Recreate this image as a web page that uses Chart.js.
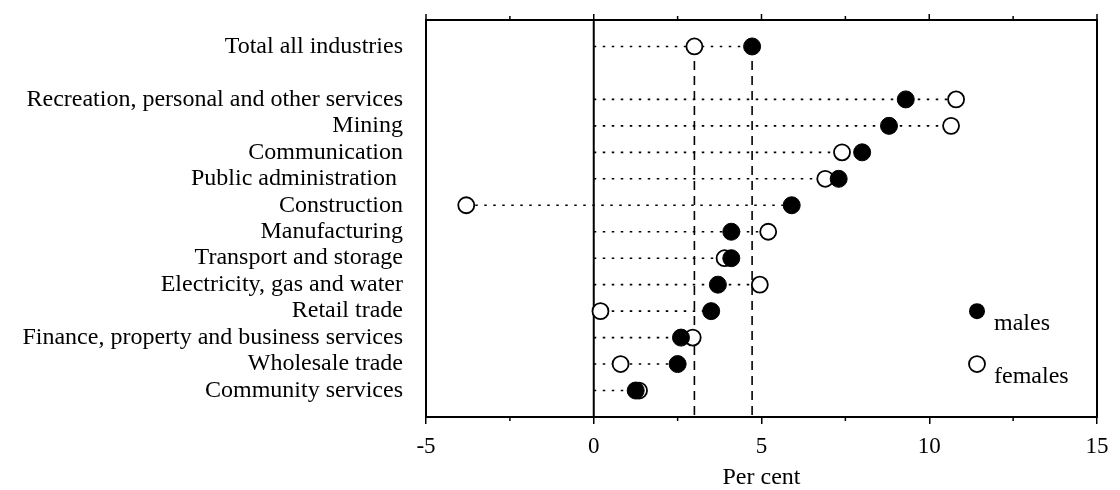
<!DOCTYPE html>
<html>
<head>
<meta charset="utf-8">
<script src="https://cdn.jsdelivr.net/npm/chart.js@4"></script>
<style>
  html, body { margin: 0; background: #fff; }
  #wrap { width: 1120px; height: 490px; }
</style>
</head>
<body>
<div id="wrap"><canvas id="chart"></canvas></div>
<script>
// ============================================================
// Data (per cent)
// ============================================================
const totalLabel = "Total all industries";
const totalMales = 4.72;
const totalFemales = 3.0;

const categories = [
  "Recreation, personal and other services",
  "Mining",
  "Communication",
  "Public administration ",
  "Construction",
  "Manufacturing",
  "Transport and storage",
  "Electricity, gas and water",
  "Retail trade",
  "Finance, property and business services",
  "Wholesale trade",
  "Community services",
];
const males   = [9.3, 8.8, 8.0, 7.3, 5.9, 4.1, 4.1, 3.7, 3.5, 2.6, 2.5, 1.25];
const females = [10.8, 10.65, 7.4, 6.9, -3.8, 5.2, 3.9, 4.95, 0.2, 2.95, 0.8, 1.35];

const xTicks = [-5, 0, 5, 10, 15];
const legendLabels = ["males", "females"];

// ============================================================
// Helpers
// ============================================================
const SERIF = '"Liberation Serif", "Times New Roman", serif';

// row 0 = total, row 1 left blank, categories from row 2
const rowLabels = [totalLabel, ...categories];
const rowPos = [0, ...categories.map((c, i) => i + 2)];
const allMales = [totalMales, ...males];
const allFemales = [totalFemales, ...females];

const dotLines = rowPos.map((y, i) => ({
  type: "line",
  data: [
    { x: Math.min(0, allMales[i], allFemales[i]), y },
    { x: Math.max(allMales[i], allFemales[i]), y },
  ],
  borderColor: "#000",
  borderWidth: 1.6,
  borderDash: [2.5, 6.5],
  pointRadius: 0,
  order: 10,
}));

const dashLines = [totalFemales, totalMales].map((x) => ({
  type: "line",
  data: [{ x, y: 0.55 }, { x, y: 14 }],
  borderColor: "#000",
  borderWidth: 1.6,
  borderDash: [9, 6],
  pointRadius: 0,
  order: 10,
}));

// ============================================================
// Frame, extra ticks and legend
// ============================================================
const framePlugin = {
  id: "frame",
  beforeDatasetsDraw(chart) {
    const { ctx, chartArea: a, scales: { x } } = chart;
    const seg = (x1, y1, x2, y2) => {
      ctx.beginPath(); ctx.moveTo(x1, y1); ctx.lineTo(x2, y2); ctx.stroke();
    };
    ctx.save();
    ctx.strokeStyle = "#000";
    ctx.lineWidth = 2;
    ctx.strokeRect(a.left, a.top, a.right - a.left, a.bottom - a.top);
    const x0 = x.getPixelForValue(0);
    seg(x0, a.top, x0, a.bottom);
    ctx.lineWidth = 1.5;
    xTicks.forEach((v) => {
      const px = x.getPixelForValue(v);
      seg(px, a.top, px, a.top - 6);
      if (v < 15) {
        const pm = x.getPixelForValue(v + 2.5);
        seg(pm, a.top, pm, a.top - 4);
        seg(pm, a.bottom, pm, a.bottom + 4);
      }
    });
    ctx.restore();
  },
  afterDraw(chart) {
    const { ctx, chartArea: a, scales: { y } } = chart;
    const lx = a.right - 120;
    const rows = [10, 12];
    ctx.save();
    ctx.font = "24px " + SERIF;
    ctx.textBaseline = "middle";
    rows.forEach((r, i) => {
      const py = y.getPixelForValue(r);
      ctx.beginPath();
      ctx.arc(lx, py, 8, 0, Math.PI * 2);
      ctx.lineWidth = 1.8;
      ctx.strokeStyle = "#000";
      if (i === 0) { ctx.fillStyle = "#000"; ctx.fill(); }
      else { ctx.fillStyle = "#fff"; ctx.fill(); ctx.stroke(); }
      ctx.fillStyle = "#000";
      ctx.fillText(legendLabels[i], lx + 17, py + 13);
    });
    ctx.restore();
  },
};

// ============================================================
// Chart
// ============================================================
new Chart(document.getElementById("chart"), {
  type: "scatter",
  data: {
    datasets: [
      {
        label: "males",
        data: rowPos.map((y, i) => ({ x: allMales[i], y })),
        pointRadius: 8.5,
        pointHoverRadius: 8.5,
        backgroundColor: "#000",
        borderColor: "#000",
        borderWidth: 1,
        order: 0,
      },
      {
        label: "females",
        data: rowPos.map((y, i) => ({ x: allFemales[i], y })),
        pointRadius: 8,
        pointHoverRadius: 8,
        backgroundColor: "#fff",
        borderColor: "#000",
        borderWidth: 1.8,
        order: 1,
      },
      ...dotLines,
      ...dashLines,
    ],
  },
  options: {
    responsive: true,
    maintainAspectRatio: false,
    animation: false,
    layout: { padding: { left: 0, right: 23, top: 20, bottom: 0 } },
    plugins: { legend: { display: false }, tooltip: { enabled: false } },
    scales: {
      x: {
        type: "linear",
        min: -5,
        max: 15,
        afterBuildTicks: (s) => { s.ticks = xTicks.map((v) => ({ value: v })); },
        afterFit: (s) => { s.height = 73; s.paddingLeft = 0; s.paddingRight = 0; },
        ticks: { color: "#000", font: { family: SERIF, size: 23 }, padding: 9 },
        grid: { drawOnChartArea: false, drawTicks: true, tickLength: 7, color: "#000", lineWidth: 1.5 },
        border: { display: false },
        title: {
          display: true,
          text: "Per cent",
          color: "#000",
          font: { family: SERIF, size: 24, lineHeight: 1 },
          padding: 0,
        },
      },
      y: {
        type: "linear",
        reverse: true,
        min: -1,
        max: 14,
        afterBuildTicks: (s) => { s.ticks = rowPos.map((v) => ({ value: v })); },
        afterFit: (s) => { s.width = 426; s.paddingTop = 0; s.paddingBottom = 0; },
        ticks: {
          autoSkip: false,
          color: "#000",
          font: { family: SERIF, size: 24 },
          padding: 23,
          callback: (v) => rowLabels[rowPos.indexOf(v)],
        },
        grid: { display: false, drawTicks: false },
        border: { display: false },
      },
    },
  },
  plugins: [framePlugin],
});
</script>
</body>
</html>
